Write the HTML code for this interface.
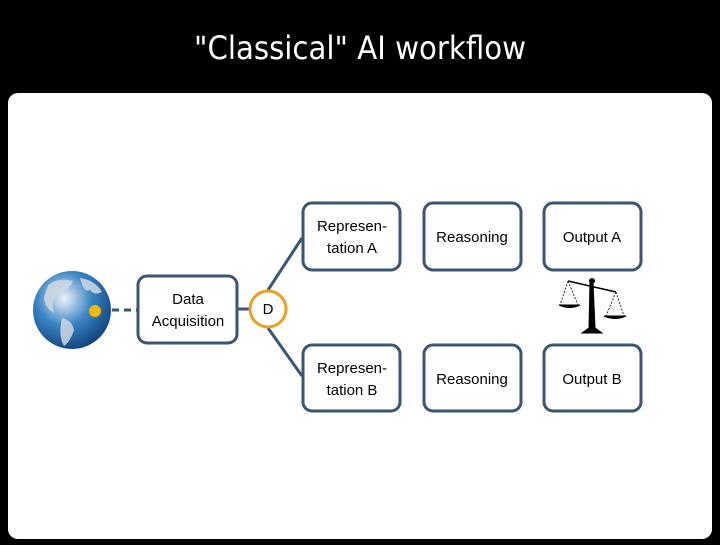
<!DOCTYPE html>
<html><head><style>
body{margin:0;width:720px;height:540px;background:#000;overflow:hidden;font-family:"Liberation Sans",sans-serif}
</style></head><body>
<svg width="720" height="540" xmlns="http://www.w3.org/2000/svg">
<defs>
<radialGradient id="g" cx="40%" cy="35%" r="70%">
<stop offset="0" stop-color="#eef3f8"/><stop offset="0.5" stop-color="#3a84c4"/><stop offset="1" stop-color="#0d3f78"/>
</radialGradient>
</defs>
<text x="360" y="59" fill="#fff" font-size="32" text-anchor="middle" font-family="DejaVu Sans, sans-serif" textLength="332" lengthAdjust="spacingAndGlyphs">"Classical" AI workflow</text>
<rect x="8" y="93" width="704" height="446" rx="10" fill="#fff"/>
<circle cx="72" cy="310" r="39" fill="url(#g)"/>
<path d="M48 285 q10 -8 25 -4 q-5 10 -15 12 q-8 10 -4 20 q-10 -6 -10 -16z M80 278 q15 2 22 14 q-8 4 -12 -2 q-6 4 -10 -12z M62 318 q10 2 12 12 q-4 12 -10 16 q-6 -10 -2 -28z" fill="#cfd8e2" opacity="0.85"/>
<circle cx="95" cy="311" r="6" fill="#f5b800"/>
<g stroke="#3b5573" stroke-width="3" fill="none">
<line x1="112" y1="310" x2="138" y2="310" stroke-dasharray="7,5"/>
<line x1="237" y1="309" x2="250" y2="309"/>
<line x1="268" y1="290" x2="302" y2="238"/>
<line x1="268" y1="328" x2="302" y2="376"/>
<rect x="138" y="276" width="99" height="67" rx="9"/>
<rect x="303" y="203" width="97" height="67" rx="9"/>
<rect x="424" y="203" width="97" height="67" rx="9"/>
<rect x="544" y="203" width="97" height="67" rx="9"/>
<rect x="303" y="345" width="97" height="66" rx="9"/>
<rect x="424" y="345" width="97" height="66" rx="9"/>
<rect x="544" y="345" width="97" height="66" rx="9"/>
</g>
<circle cx="268" cy="309" r="18" fill="#fff" stroke="#e8a020" stroke-width="3"/>
<g font-size="15" text-anchor="middle" fill="#000">
<text x="188" y="304">Data</text><text x="188" y="326">Acquisition</text>
<text x="268" y="314">D</text>
<text x="352" y="231">Represen-</text><text x="352" y="253">tation A</text>
<text x="472" y="242">Reasoning</text>
<text x="592" y="242">Output A</text>
<text x="352" y="373">Represen-</text><text x="352" y="395">tation B</text>
<text x="472" y="384">Reasoning</text>
<text x="592" y="384">Output B</text>
</g>
<g stroke="#000" fill="#000">
<line x1="568" y1="281" x2="616" y2="292" stroke-width="1.5"/>
<path d="M590 282 L593 282 L595 328 L602 333 L582 333 L589 328z"/>
<circle cx="592" cy="281" r="2.5"/>
<path d="M568 281 L560 305 M568 281 L578 305 M616 292 L606 316 M616 292 L624 316" stroke-width="0.8" stroke-dasharray="2,1.5" fill="none"/>
<path d="M559 305 h21 q-10 5 -21 0z M604 316 h22 q-11 5 -22 0z"/>
</g>
</svg>
</body></html>
